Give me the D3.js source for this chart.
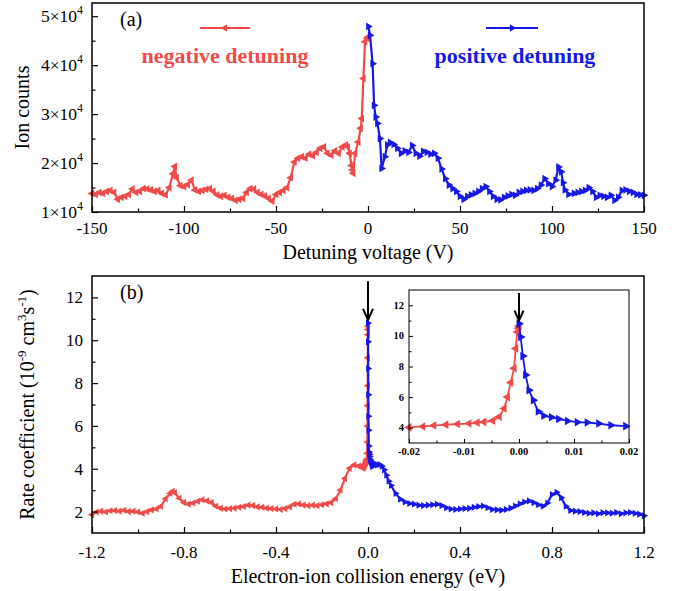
<!DOCTYPE html>
<html><head><meta charset="utf-8">
<script src="https://cdn.jsdelivr.net/npm/d3@7"></script>
<style>body{margin:0;background:#fff}svg{display:block}text{font-family:"Liberation Serif","Times New Roman",serif;fill:#000}</style>
</head><body><svg id="c" width="687" height="591"></svg>
<script>
// ---------- DATA ----------
// Panel (a): detuning voltage (V) vs ion counts (units of 1e4)
const negDetuning = [[-150,1.38],[-148,1.36],[-146,1.40],[-144,1.38],[-142,1.42],[-140,1.44],[-138,1.40],[-136,1.26],[-134,1.30],[-132,1.32],[-130,1.36],[-128,1.47],[-126,1.40],[-124,1.42],[-122,1.48],[-120,1.47],[-118,1.45],[-116,1.42],[-114,1.44],[-112,1.38],[-110,1.35],[-108,1.50],[-106,1.78],[-105,1.93],[-104,1.70],[-102,1.54],[-100,1.52],[-98,1.56],[-96,1.65],[-94,1.45],[-92,1.42],[-90,1.44],[-88,1.46],[-86,1.48],[-84,1.42],[-82,1.35],[-80,1.32],[-78,1.34],[-76,1.30],[-74,1.28],[-72,1.24],[-70,1.26],[-68,1.28],[-66,1.40],[-64,1.48],[-62,1.47],[-60,1.40],[-58,1.36],[-56,1.33],[-54,1.28],[-52,1.22],[-50,1.36],[-48,1.40],[-46,1.44],[-44,1.50],[-42,1.70],[-40,2.02],[-38,2.10],[-36,2.13],[-34,2.10],[-32,2.18],[-30,2.15],[-28,2.22],[-26,2.30],[-24,2.33],[-22,2.20],[-20,2.16],[-18,2.25],[-16,2.20],[-14,2.33],[-12,2.37],[-11,2.33],[-10,2.20],[-9,1.95],[-8.5,1.86],[-8,1.79],[-7,2.20],[-5.3,2.43],[-4,2.71],[-3.4,2.91],[-2.5,3.73],[-1.6,4.48],[-0.5,4.55],[0.2,4.58]];
const posDetuning = [[0.2,4.79],[1.1,4.61],[2.5,4.03],[3.3,3.18],[4.2,2.94],[5.1,2.81],[6.5,2.50],[7.4,1.89],[9.2,2.13],[10.5,2.37],[12,2.42],[14,2.38],[16,2.30],[18,2.20],[20,2.25],[22,2.22],[24,2.36],[26,2.20],[28,2.14],[30,2.24],[32,2.22],[34,2.18],[36,2.20],[38,2.10],[40,1.88],[42,1.68],[44,1.55],[46,1.48],[48,1.42],[50,1.32],[52,1.26],[54,1.32],[56,1.35],[58,1.38],[60,1.42],[62,1.48],[64,1.52],[66,1.42],[68,1.32],[70,1.26],[72,1.25],[74,1.30],[76,1.33],[78,1.36],[80,1.34],[82,1.40],[84,1.42],[86,1.44],[88,1.45],[90,1.44],[92,1.48],[94,1.55],[96,1.68],[98,1.58],[100,1.52],[102,1.65],[103.5,1.92],[105,1.82],[106,1.60],[107,1.45],[109,1.36],[112,1.38],[114,1.40],[116,1.42],[118,1.44],[120,1.50],[122,1.42],[124,1.30],[126,1.34],[128,1.32],[130,1.30],[132,1.34],[134,1.24],[136,1.30],[138,1.44],[140,1.45],[142,1.42],[144,1.40],[146,1.36],[148,1.35],[150,1.34]];

// Panel (b): collision energy (eV) vs rate coefficient (1e-9 cm^3 s^-1)
const negRateWide = [[-1.20,1.85],[-1.18,1.98],[-1.16,2.02],[-1.14,1.98],[-1.12,2.04],[-1.10,2.05],[-1.08,2.02],[-1.06,2.06],[-1.04,2.00],[-1.02,2.02],[-1.00,1.98],[-0.98,1.92],[-0.96,2.00],[-0.94,2.08],[-0.92,2.12],[-0.90,2.25],[-0.88,2.60],[-0.86,2.85],[-0.85,2.95],[-0.84,2.88],[-0.82,2.62],[-0.80,2.42],[-0.78,2.35],[-0.76,2.40],[-0.74,2.48],[-0.72,2.55],[-0.70,2.50],[-0.68,2.42],[-0.66,2.25],[-0.64,2.15],[-0.62,2.12],[-0.60,2.14],[-0.58,2.16],[-0.56,2.20],[-0.54,2.24],[-0.52,2.30],[-0.50,2.28],[-0.48,2.22],[-0.46,2.20],[-0.44,2.16],[-0.42,2.14],[-0.40,2.12],[-0.38,2.10],[-0.36,2.14],[-0.34,2.22],[-0.32,2.34],[-0.30,2.36],[-0.28,2.30],[-0.26,2.28],[-0.24,2.30],[-0.22,2.28],[-0.20,2.32],[-0.18,2.36],[-0.16,2.42],[-0.14,2.60],[-0.12,3.00],[-0.10,3.55],[-0.08,4.02],[-0.06,4.18],[-0.04,4.12],[-0.03,4.10]];
const negRateNear = [[-0.0200,4.02],[-0.0175,4.08],[-0.0155,4.14],[-0.0133,4.20],[-0.0112,4.24],[-0.0091,4.27],[-0.0076,4.33],[-0.0064,4.38],[-0.0048,4.45],[-0.0036,4.72],[-0.0027,5.25],[-0.0021,6.00],[-0.0015,6.95],[-0.0009,7.88],[-0.0006,9.18],[-0.0003,10.26],[-0.0001,10.50],[0.0,10.65]];
const posRateNear = [[0.0,10.80],[0.0003,9.93],[0.0007,8.68],[0.0012,7.45],[0.0018,6.45],[0.0026,5.80],[0.0035,5.06],[0.0045,4.78],[0.0059,4.68],[0.0072,4.57],[0.0088,4.44],[0.0106,4.36],[0.0124,4.34],[0.0145,4.27],[0.0167,4.16],[0.0194,4.10]];
const posRateWide = [[0.02,4.25],[0.03,4.22],[0.04,4.18],[0.05,4.20],[0.06,4.12],[0.07,3.95],[0.08,3.70],[0.09,3.42],[0.10,3.22],[0.12,2.85],[0.14,2.58],[0.16,2.45],[0.18,2.38],[0.20,2.35],[0.22,2.30],[0.24,2.28],[0.26,2.30],[0.28,2.32],[0.30,2.34],[0.32,2.28],[0.34,2.18],[0.36,2.12],[0.38,2.10],[0.40,2.12],[0.42,2.14],[0.44,2.15],[0.46,2.20],[0.48,2.24],[0.50,2.26],[0.52,2.18],[0.54,2.10],[0.56,2.08],[0.58,2.06],[0.60,2.10],[0.62,2.16],[0.64,2.26],[0.66,2.36],[0.68,2.45],[0.70,2.50],[0.72,2.42],[0.74,2.32],[0.76,2.25],[0.78,2.40],[0.80,2.80],[0.82,2.90],[0.84,2.65],[0.86,2.25],[0.88,2.05],[0.90,2.02],[0.92,2.00],[0.94,1.96],[0.96,1.92],[0.98,1.94],[1.00,1.90],[1.02,1.95],[1.04,1.94],[1.06,1.92],[1.08,1.96],[1.10,1.90],[1.12,1.94],[1.14,1.96],[1.16,1.92],[1.18,1.88],[1.20,1.80]];

// Tick values / labels
const aXTicks = [-150,-100,-50,0,50,100,150];
const aXMinor = [-125,-75,-25,25,75,125];
const aYTicks = [1,2,3,4,5];
const aYMinor = [1.5,2.5,3.5,4.5];
const bXTicks = [-1.2,-0.8,-0.4,0,0.4,0.8,1.2];
const bXLabels = ["-1.2","-0.8","-0.4","0.0","0.4","0.8","1.2"];
const bXMinor = [-1.0,-0.6,-0.2,0.2,0.6,1.0];
const bYTicks = [2,4,6,8,10,12];
const bYMinor = [3,5,7,9,11];
const iXTicks = [-0.02,-0.01,0,0.01,0.02];
const iXLabels = ["-0.02","-0.01","0.00","0.01","0.02"];
const iXMinor = [-0.015,-0.005,0.005,0.015];
const iYTicks = [4,6,8,10,12];
const iYMinor = [5,7,9,11];

// ---------- DRAW ----------
const RED = "#f04a4a", BLUE = "#1818e6";
const TICK_FS = 17, TITLE_FS = 20;
const svg = d3.select("#c");

function frame(g, x0, x1, y0, y1, w) {
  g.append("rect").attr("x", x0).attr("y", y0).attr("width", x1 - x0).attr("height", y1 - y0)
    .attr("fill", "none").attr("stroke", "#000").attr("stroke-width", w);
}
function xTicks(g, x, yPos, major, minor, lenMaj, lenMin, sw) {
  const a = g.append("g").attr("transform", `translate(0,${yPos})`)
    .call(d3.axisBottom(x).tickValues(major).tickSize(-lenMaj).tickFormat(""));
  a.select(".domain").remove(); a.selectAll("line").attr("stroke-width", sw);
  const b = g.append("g").attr("transform", `translate(0,${yPos})`)
    .call(d3.axisBottom(x).tickValues(minor).tickSize(-lenMin).tickFormat(""));
  b.select(".domain").remove(); b.selectAll("line").attr("stroke-width", sw);
}
function yTicks(g, y, xPos, major, minor, lenMaj, lenMin, sw) {
  const a = g.append("g").attr("transform", `translate(${xPos},0)`)
    .call(d3.axisLeft(y).tickValues(major).tickSize(-lenMaj).tickFormat(""));
  a.select(".domain").remove(); a.selectAll("line").attr("stroke-width", sw);
  const b = g.append("g").attr("transform", `translate(${xPos},0)`)
    .call(d3.axisLeft(y).tickValues(minor).tickSize(-lenMin).tickFormat(""));
  b.select(".domain").remove(); b.selectAll("line").attr("stroke-width", sw);
}
function series(g, data, x, y, color, dir, msize, lw) {
  g.append("path").datum(data).attr("fill", "none").attr("stroke", color).attr("stroke-width", lw)
    .attr("stroke-linejoin", "round")
    .attr("d", d3.line().x(d => x(d[0])).y(d => y(d[1])));
  const sym = d3.symbol().type(d3.symbolTriangle).size(msize);
  g.selectAll(null).data(data).join("path").attr("d", sym).attr("fill", color)
    .attr("transform", d => `translate(${x(d[0])},${y(d[1])}) rotate(${dir === "right" ? 90 : -90})`);
}
function arrow(g, xp, y1, y2, w, hw, hh) {
  g.append("line").attr("x1", xp).attr("x2", xp).attr("y1", y1).attr("y2", y2 - 1)
    .attr("stroke", "#000").attr("stroke-width", w);
  g.append("path").attr("d", `M${xp - hw},${y2 - hh} L${xp},${y2} L${xp + hw},${y2 - hh}`)
    .attr("fill", "none").attr("stroke", "#000").attr("stroke-width", w).attr("stroke-linejoin", "miter");
}

// ----- Panel (a) -----
const A = {l: 92, r: 644, t: 3, b: 212};
const xA = d3.scaleLinear().domain([-150, 150]).range([A.l, A.r]);
const yA = d3.scaleLinear().domain([1, 5.27]).range([A.b, A.t]);
const gA = svg.append("g");
series(gA, negDetuning, xA, yA, RED, "left", 26, 2.2);
series(gA, posDetuning, xA, yA, BLUE, "right", 26, 2.2);
xTicks(gA, xA, A.b, aXTicks, aXMinor, 6, 3.5, 1.2);
yTicks(gA, yA, A.l, aYTicks, aYMinor, 6, 3.5, 1.2);
frame(gA, A.l, A.r, A.t, A.b, 1.5);
gA.selectAll(null).data(aXTicks).join("text").attr("x", d => xA(d)).attr("y", 234)
  .attr("text-anchor", "middle").attr("font-size", TICK_FS).text(d => d);
aYTicks.forEach(v => {
  const t = gA.append("text").attr("x", 83).attr("y", yA(v) + 6).attr("text-anchor", "end").attr("font-size", 17.5);
  t.append("tspan").text(v + "\u00d710");
  t.append("tspan").attr("dy", -8).attr("font-size", 12).text("4");
});
gA.append("text").attr("x", 120).attr("y", 26).attr("font-size", 20).text("(a)");
gA.append("text").attr("transform", `translate(29,${(A.t + A.b) / 2}) rotate(-90)`).attr("text-anchor", "middle")
  .attr("font-size", TITLE_FS).text("Ion counts");
gA.append("text").attr("x", (A.l + A.r) / 2).attr("y", 259).attr("text-anchor", "middle")
  .attr("font-size", TITLE_FS).text("Detuning voltage (V)");
// legend
gA.append("line").attr("x1", 200).attr("x2", 250).attr("y1", 28).attr("y2", 28).attr("stroke", RED).attr("stroke-width", 1.8);
gA.append("path").attr("d", d3.symbol().type(d3.symbolTriangle).size(24)).attr("fill", RED).attr("transform", "translate(225,28) rotate(-90)");
gA.append("line").attr("x1", 486).attr("x2", 538).attr("y1", 28).attr("y2", 28).attr("stroke", BLUE).attr("stroke-width", 1.8);
gA.append("path").attr("d", d3.symbol().type(d3.symbolTriangle).size(24)).attr("fill", BLUE).attr("transform", "translate(512,28) rotate(90)");
gA.append("text").attr("x", 225).attr("y", 63).attr("text-anchor", "middle").attr("font-size", 22)
  .attr("font-weight", "bold").style("fill", RED).text("negative detuning");
gA.append("text").attr("x", 515).attr("y", 63).attr("text-anchor", "middle").attr("font-size", 22)
  .attr("font-weight", "bold").style("fill", BLUE).text("positive detuning");

// ----- Panel (b) -----
const B = {l: 92, r: 644, t: 276, b: 533};
const xB = d3.scaleLinear().domain([-1.2, 1.2]).range([B.l, B.r]);
const yB = d3.scaleLinear().domain([1, 13]).range([B.b, B.t]);
const gB = svg.append("g");
series(gB, negRateWide.concat(negRateNear), xB, yB, RED, "left", 22, 2.2);
series(gB, posRateNear.concat(posRateWide), xB, yB, BLUE, "right", 22, 2.2);
xTicks(gB, xB, B.b, bXTicks, bXMinor, 6, 3.5, 1.2);
yTicks(gB, yB, B.l, bYTicks, bYMinor, 6, 3.5, 1.2);
frame(gB, B.l, B.r, B.t, B.b, 1.5);
gB.selectAll(null).data(bXTicks).join("text").attr("x", d => xB(d)).attr("y", 558)
  .attr("text-anchor", "middle").attr("font-size", TICK_FS).text((d, i) => bXLabels[i]);
gB.selectAll(null).data(bYTicks).join("text").attr("x", 83).attr("y", d => yB(d) + 6)
  .attr("text-anchor", "end").attr("font-size", TICK_FS).text(d => d);
gB.append("text").attr("x", 120).attr("y", 299).attr("font-size", 20).text("(b)");
const yl = gB.append("text").attr("transform", `translate(34,${(B.t + B.b) / 2}) rotate(-90)`)
  .attr("text-anchor", "middle").attr("font-size", TITLE_FS);
yl.append("tspan").text("Rate coefficient (10");
yl.append("tspan").attr("dy", -8).attr("font-size", 13).text("-9");
yl.append("tspan").attr("dy", 8).text(" cm");
yl.append("tspan").attr("dy", -8).attr("font-size", 13).text("3");
yl.append("tspan").attr("dy", 8).text("s");
yl.append("tspan").attr("dy", -8).attr("font-size", 13).text("-1");
yl.append("tspan").attr("dy", 8).text(")");
gB.append("text").attr("x", (B.l + B.r) / 2).attr("y", 583).attr("text-anchor", "middle")
  .attr("font-size", TITLE_FS).text("Electron-ion collision energy (eV)");
arrow(gB, xB(0), yB(12.75), yB(10.95), 2, 5, 11);

// ----- Inset -----
const I = {l: 409, r: 629, t: 290, b: 443};
const xI = d3.scaleLinear().domain([-0.02, 0.02]).range([I.l, I.r]);
const yI = d3.scaleLinear().domain([3, 13]).range([I.b, I.t]);
const gI = svg.append("g");
gI.append("rect").attr("x", I.l).attr("y", I.t).attr("width", I.r - I.l).attr("height", I.b - I.t).attr("fill", "#fff");
series(gI, negRateNear, xI, yI, RED, "left", 32, 1.8);
series(gI, posRateNear, xI, yI, BLUE, "right", 32, 1.8);
xTicks(gI, xI, I.b, iXTicks, iXMinor, 4, 2.5, 1);
yTicks(gI, yI, I.l, iYTicks, iYMinor, 4, 2.5, 1);
frame(gI, I.l, I.r, I.t, I.b, 1);
gI.selectAll(null).data(iXTicks).join("text").attr("x", d => xI(d)).attr("y", I.b + 12)
  .attr("text-anchor", "middle").attr("font-size", 10.5).attr("font-weight", "bold").text((d, i) => iXLabels[i]);
gI.selectAll(null).data(iYTicks).join("text").attr("x", I.l - 5).attr("y", d => yI(d) + 3.5)
  .attr("text-anchor", "end").attr("font-size", 10.5).attr("font-weight", "bold").text(d => d);
arrow(gI, xI(0), yI(12.8), yI(11.0), 2, 4.5, 10);
</script></body></html>
